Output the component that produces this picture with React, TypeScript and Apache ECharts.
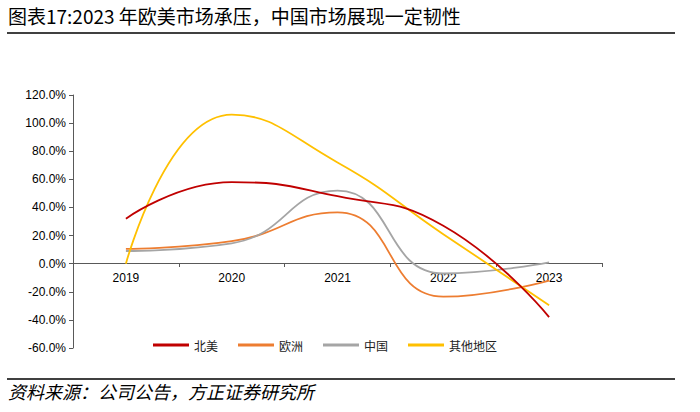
import React, { useEffect, useRef } from "react";
import * as echarts from "echarts";

const years = ["2019", "2020", "2021", "2022", "2023"];
const northAmerica = [32, 58, 48, 27, -38];
const europe = [10.5, 16, 36.5, -23.5, -12];
const china = [9, 14.5, 52, -7, 1];
const others = [0, 106, 72, 21, -29.5];
const seriesNames = ["北美", "欧洲", "中国", "其他地区"];
const colors = ["#C00000", "#ED7D31", "#A5A5A5", "#FFC000"];
const titleText = "图表17:2023 年欧美市场承压，中国市场展现一定韧性";
const sourceText = "资料来源：公司公告，方正证券研究所";

export default function App() {
  const ref = useRef<HTMLDivElement>(null);
  useEffect(() => {
    if (!ref.current) return;
    const chart = echarts.init(ref.current, null, { renderer: "svg" });
    const data = [northAmerica, europe, china, others];
    chart.setOption({
      animation: false,
      backgroundColor: "#ffffff",
      grid: { left: 73, right: 98, top: 95, bottom: 64, containLabel: false },
      legend: {
        left: 148,
        top: 334,
        icon: "rect",
        itemWidth: 36,
        itemHeight: 3,
        itemGap: 20,
        textStyle: { fontFamily: "Noto Sans CJK SC", fontSize: 12, color: "#222" },
        data: seriesNames,
      },
      xAxis: {
        type: "category",
        data: years,
        boundaryGap: true,
        offset: -85,
        axisLine: { onZero: false, lineStyle: { color: "#595959", width: 1 } },
        axisTick: { show: true, length: 4, inside: false, lineStyle: { color: "#595959" } },
        axisLabel: { color: "#000", fontFamily: "Liberation Sans", fontSize: 12, margin: 9 },
        splitLine: { show: false },
      },
      yAxis: {
        type: "value",
        min: -60,
        max: 120,
        interval: 20,
        axisLine: { show: true, lineStyle: { color: "#595959", width: 1 } },
        axisTick: { show: true, length: 4, lineStyle: { color: "#595959" } },
        axisLabel: {
          color: "#000",
          fontFamily: "Liberation Sans",
          fontSize: 12,
          margin: 7,
          formatter: (v: number) => v.toFixed(1) + "%",
        },
        splitLine: { show: false },
      },
      series: seriesNames.map((name, i) => ({
        name,
        type: "line",
        data: data[i],
        smooth: 0.5,
        showSymbol: false,
        symbol: "none",
        lineStyle: { color: colors[i], width: 1.8 },
        itemStyle: { color: colors[i] },
        z: 3 + (i === 0 ? 1 : 0),
      })),
      graphic: [
        {
          type: "text",
          left: 8,
          top: 6,
          style: {
            text: titleText,
            fontFamily: "Noto Sans CJK SC",
            fontSize: 19,
            fill: "#000",
          },
        },
        {
          type: "line",
          shape: { x1: 7, y1: 33, x2: 675, y2: 33 },
          style: { stroke: "#000", lineWidth: 1.5 },
        },
        {
          type: "line",
          shape: { x1: 7, y1: 379, x2: 675, y2: 379 },
          style: { stroke: "#000", lineWidth: 1.5 },
        },
        {
          type: "text",
          left: 8,
          top: 382,
          style: {
            text: sourceText,
            fontFamily: "Noto Sans CJK SC",
            fontSize: 18,
            fontStyle: "italic",
            fill: "#000",
          },
        },
      ],
    });
    return () => chart.dispose();
  }, []);
  return (
    <div
      ref={ref}
      style={{ position: "fixed", left: 0, top: 0, width: 700, height: 412 }}
    />
  );
}
